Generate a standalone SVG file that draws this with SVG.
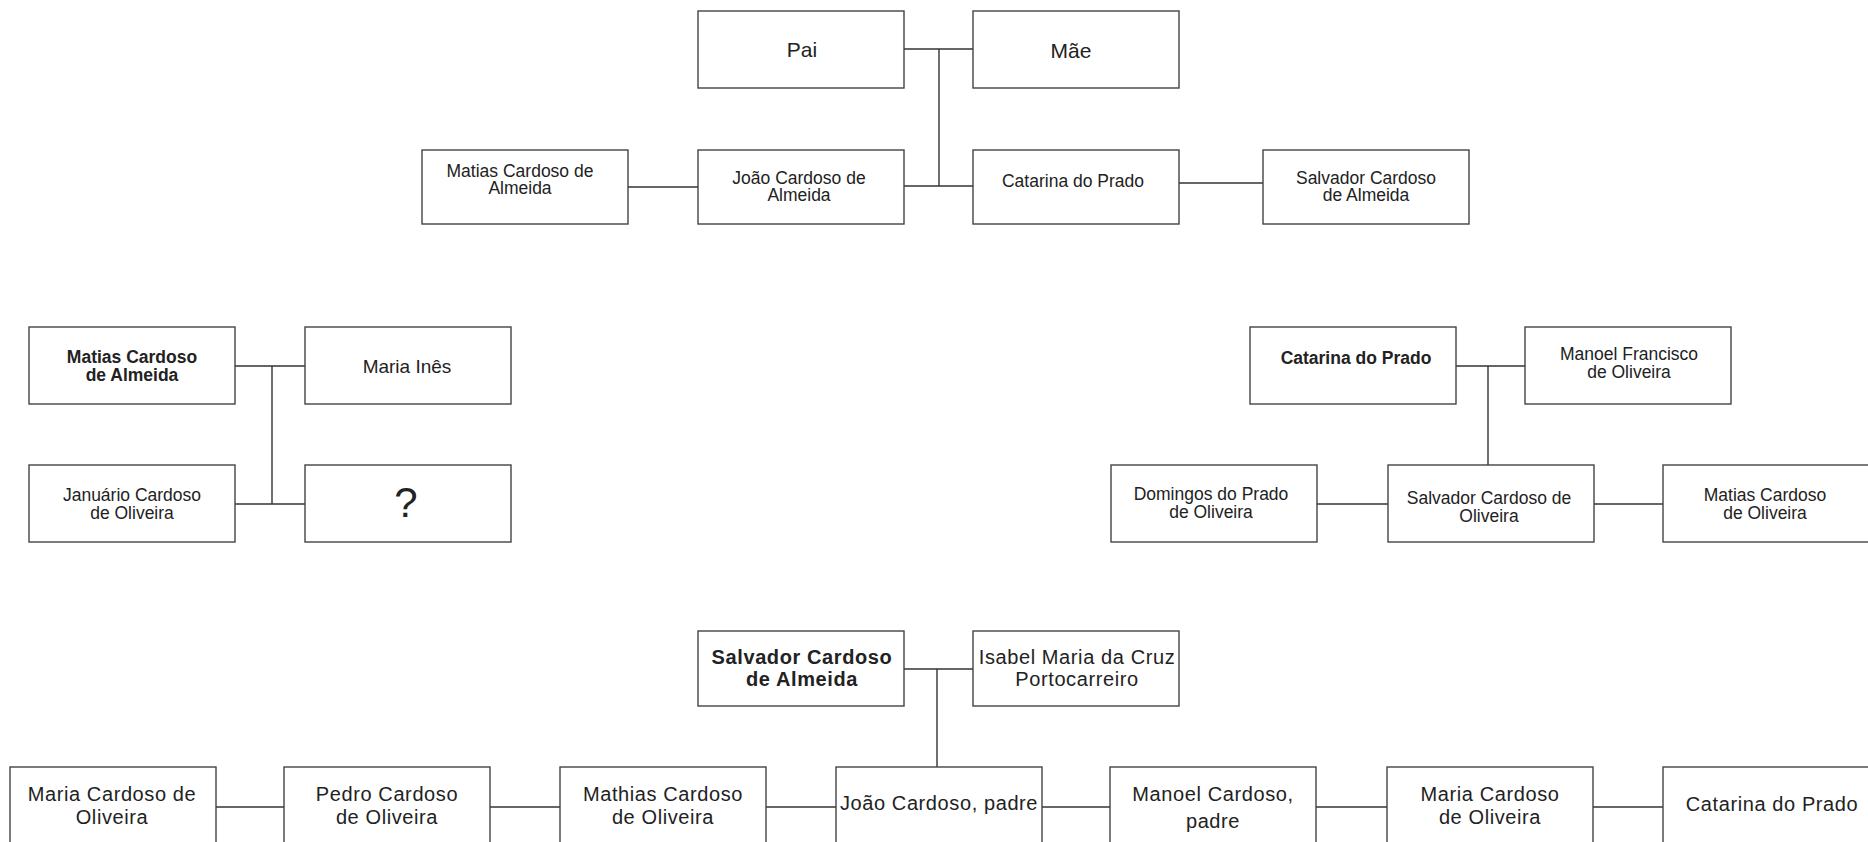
<svg xmlns="http://www.w3.org/2000/svg" width="1868" height="842" viewBox="0 0 1868 842">
<style>
  .box { fill: #ffffff; stroke: #444444; stroke-width: 1.4; }
  .t { font-family: "Liberation Sans", Arial, sans-serif; fill: #222222; text-anchor: middle; }
  .s17 { font-size: 17.5px; }
  .s19 { font-size: 19px; }
  .s21 { font-size: 21px; }
  .s20 { font-size: 20px; letter-spacing: 0.6px; }
  .b { font-weight: bold; }
  .q { font-size: 42px; }
  .ln { stroke: #333333; stroke-width: 1.4; fill: none; }
</style>
<rect x="0" y="0" width="1868" height="842" fill="#ffffff"/>

<g id="connectors">
  <path class="ln" d="M904 49 H973"/>
  <path class="ln" d="M939 49 V186"/>
  <path class="ln" d="M904 186 H973"/>
  <path class="ln" d="M628 187 H698"/>
  <path class="ln" d="M1179 183 H1263"/>
  <path class="ln" d="M235 366 H305"/>
  <path class="ln" d="M272 366 V504"/>
  <path class="ln" d="M235 504 H305"/>
  <path class="ln" d="M1456 366 H1525"/>
  <path class="ln" d="M1488 366 V465"/>
  <path class="ln" d="M1316 504 H1388"/>
  <path class="ln" d="M1594 504 H1663"/>
  <path class="ln" d="M904 669 H973"/>
  <path class="ln" d="M937 669 V767"/>
  <path class="ln" d="M216 807 H284"/>
  <path class="ln" d="M490 807 H560"/>
  <path class="ln" d="M766 807 H836"/>
  <path class="ln" d="M1042 807 H1110"/>
  <path class="ln" d="M1316 807 H1387"/>
  <path class="ln" d="M1593 807 H1663"/>
</g>

<g id="pai">
  <rect class="box" x="698" y="11" width="206" height="77"/>
  <text class="t s21" x="802" y="57">Pai</text>
</g>
<g id="mae">
  <rect class="box" x="973" y="11" width="206" height="77"/>
  <text class="t s21" x="1071" y="58">Mãe</text>
</g>
<g id="matias-top">
  <rect class="box" x="422" y="150" width="206" height="74"/>
  <text class="t s17" x="520" y="177">Matias Cardoso de</text>
  <text class="t s17" x="520" y="194">Almeida</text>
</g>
<g id="joao-top">
  <rect class="box" x="698" y="150" width="206" height="74"/>
  <text class="t s17" x="799" y="184">João Cardoso de</text>
  <text class="t s17" x="799" y="201">Almeida</text>
</g>
<g id="catarina-top">
  <rect class="box" x="973" y="150" width="206" height="74"/>
  <text class="t s17" x="1073" y="187">Catarina do Prado</text>
</g>
<g id="salvador-top">
  <rect class="box" x="1263" y="150" width="206" height="74"/>
  <text class="t s17" x="1366" y="184">Salvador Cardoso</text>
  <text class="t s17" x="1366" y="201">de Almeida</text>
</g>

<g id="matias-mid">
  <rect class="box" x="29" y="327" width="206" height="77"/>
  <text class="t s17 b" x="132" y="363">Matias Cardoso</text>
  <text class="t s17 b" x="132" y="381">de Almeida</text>
</g>
<g id="maria-ines">
  <rect class="box" x="305" y="327" width="206" height="77"/>
  <text class="t s19" x="407" y="373">Maria Inês</text>
</g>
<g id="januario">
  <rect class="box" x="29" y="465" width="206" height="77"/>
  <text class="t s17" x="132" y="501">Januário Cardoso</text>
  <text class="t s17" x="132" y="519">de Oliveira</text>
</g>
<g id="unknown">
  <rect class="box" x="305" y="465" width="206" height="77"/>
  <text class="t q" x="406" y="517">?</text>
</g>

<g id="catarina-mid">
  <rect class="box" x="1250" y="327" width="206" height="77"/>
  <text class="t s17 b" x="1356" y="364">Catarina do Prado</text>
</g>
<g id="manoel-francisco">
  <rect class="box" x="1525" y="327" width="206" height="77"/>
  <text class="t s17" x="1629" y="360">Manoel Francisco</text>
  <text class="t s17" x="1629" y="378">de Oliveira</text>
</g>
<g id="domingos">
  <rect class="box" x="1111" y="465" width="206" height="77"/>
  <text class="t s17" x="1211" y="500">Domingos do Prado</text>
  <text class="t s17" x="1211" y="518">de Oliveira</text>
</g>
<g id="salvador-oliveira">
  <rect class="box" x="1388" y="465" width="206" height="77"/>
  <text class="t s17" x="1489" y="504">Salvador Cardoso de</text>
  <text class="t s17" x="1489" y="522">Oliveira</text>
</g>
<g id="matias-oliveira">
  <rect class="box" x="1663" y="465" width="206" height="77"/>
  <text class="t s17" x="1765" y="501">Matias Cardoso</text>
  <text class="t s17" x="1765" y="519">de Oliveira</text>
</g>

<g id="salvador-bottom">
  <rect class="box" x="698" y="631" width="206" height="75"/>
  <text class="t s20 b" x="802" y="664">Salvador Cardoso</text>
  <text class="t s20 b" x="802" y="686">de Almeida</text>
</g>
<g id="isabel">
  <rect class="box" x="973" y="631" width="206" height="75"/>
  <text class="t s20" x="1077" y="664">Isabel Maria da Cruz</text>
  <text class="t s20" x="1077" y="686">Portocarreiro</text>
</g>
<g id="maria-cardoso-1">
  <rect class="box" x="10" y="767" width="206" height="76"/>
  <text class="t s20" x="112" y="801">Maria Cardoso de</text>
  <text class="t s20" x="112" y="824">Oliveira</text>
</g>
<g id="pedro">
  <rect class="box" x="284" y="767" width="206" height="76"/>
  <text class="t s20" x="387" y="801">Pedro Cardoso</text>
  <text class="t s20" x="387" y="824">de Oliveira</text>
</g>
<g id="mathias">
  <rect class="box" x="560" y="767" width="206" height="76"/>
  <text class="t s20" x="663" y="801">Mathias Cardoso</text>
  <text class="t s20" x="663" y="824">de Oliveira</text>
</g>
<g id="joao-padre">
  <rect class="box" x="836" y="767" width="206" height="76"/>
  <text class="t s20" x="939" y="810">João Cardoso, padre</text>
</g>
<g id="manoel-padre">
  <rect class="box" x="1110" y="767" width="206" height="76"/>
  <text class="t s20" x="1213" y="801">Manoel Cardoso,</text>
  <text class="t s20" x="1213" y="828">padre</text>
</g>
<g id="maria-cardoso-2">
  <rect class="box" x="1387" y="767" width="206" height="76"/>
  <text class="t s20" x="1490" y="801">Maria Cardoso</text>
  <text class="t s20" x="1490" y="824">de Oliveira</text>
</g>
<g id="catarina-bottom">
  <rect class="box" x="1663" y="767" width="206" height="76"/>
  <text class="t s20" x="1772" y="811">Catarina do Prado</text>
</g>
</svg>
